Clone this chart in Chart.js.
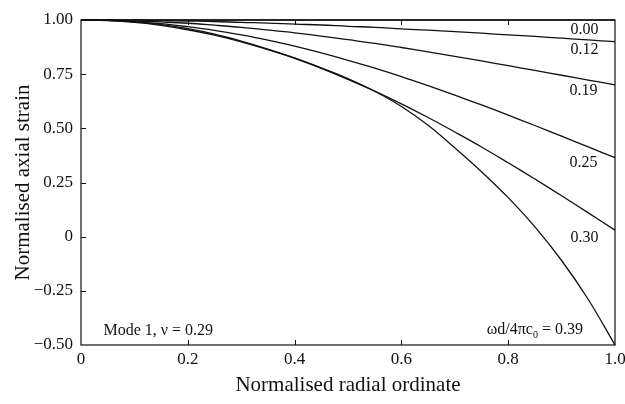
<!DOCTYPE html>
<html>
<head>
<meta charset="utf-8">
<script src="https://cdn.jsdelivr.net/npm/chart.js@4.4.0/dist/chart.umd.min.js"></script>
<style>
  html, body { margin: 0; padding: 0; background: #fff; }
  canvas { display: block; }
</style>
</head>
<body>
<canvas id="graph" width="625" height="404"></canvas>
<script>
// normalised radial ordinate (x)
const radial = [0, 0.05, 0.1, 0.15, 0.2, 0.25, 0.3, 0.35, 0.4, 0.45, 0.5,
                0.55, 0.6, 0.65, 0.7, 0.75, 0.8, 0.85, 0.9, 0.95, 1.0];

// normalised axial strain, one array per wd/4pi c0 value
const strain000 = [1, 1, 1, 1, 1, 1, 1, 1, 1, 1, 1, 1, 1, 1, 1, 1, 1, 1, 1, 1, 1];
const strain012 = [1, 1.000, 0.999, 0.997, 0.995, 0.993, 0.989, 0.986, 0.981, 0.977, 0.971,
                   0.966, 0.959, 0.953, 0.946, 0.939, 0.931, 0.924, 0.916, 0.908, 0.900];
const strain019 = [1, 0.999, 0.996, 0.991, 0.985, 0.976, 0.966, 0.954, 0.941, 0.926, 0.909,
                   0.892, 0.873, 0.853, 0.832, 0.811, 0.789, 0.767, 0.745, 0.723, 0.701];
const strain025 = [1, 0.998, 0.992, 0.983, 0.969, 0.952, 0.931, 0.907, 0.879, 0.848, 0.814,
                   0.778, 0.739, 0.697, 0.653, 0.608, 0.561, 0.513, 0.464, 0.414, 0.365];
const strain030 = [1, 0.997, 0.989, 0.975, 0.955, 0.930, 0.899, 0.863, 0.823, 0.777, 0.726,
                   0.672, 0.613, 0.550, 0.483, 0.414, 0.341, 0.266, 0.189, 0.110, 0.030];
const strain039 = [1, 0.998, 0.991, 0.979, 0.960, 0.935, 0.903, 0.866, 0.825, 0.779, 0.730,
                   0.671, 0.601, 0.514, 0.410, 0.300, 0.180, 0.045, -0.110, -0.290, -0.500];

const seriesNames = ["0.00", "0.12", "0.19", "0.25", "0.30", "0.39"];
const seriesData = [strain000, strain012, strain019, strain025, strain030, strain039];

const xTicks = [0, 0.2, 0.4, 0.6, 0.8, 1.0];
const yTicks = [-0.5, -0.25, 0, 0.25, 0.5, 0.75, 1.0];

const serif = "'Liberation Serif', 'DejaVu Serif', serif";
const ink = '#111';

// text placed inside the plot, in data units
const notes = [
  { text: "0.00", x: 0.969, y: 0.954, align: 'right' },
  { text: "0.12", x: 0.969, y: 0.862, align: 'right' },
  { text: "0.19", x: 0.967, y: 0.671, align: 'right' },
  { text: "0.25", x: 0.967, y: 0.340, align: 'right' },
  { text: "0.30", x: 0.969, y: -0.004, align: 'right' },
  { text: "Mode 1, \u03bd = 0.29", x: 0.042, y: -0.435, align: 'left' }
];

const frameAndNotes = {
  id: 'frameAndNotes',
  afterDatasetsDraw(chart) {
    const ctx = chart.ctx;
    const a = chart.chartArea;
    const xs = chart.scales.x, ys = chart.scales.y;
    ctx.save();
    ctx.strokeStyle = ink;
    ctx.lineWidth = 1.2;
    ctx.strokeRect(a.left, a.top, a.right - a.left, a.bottom - a.top);
    // inward ticks
    ctx.lineWidth = 1;
    ctx.beginPath();
    xTicks.forEach(v => {
      if (v <= 0 || v >= 1) return;
      const px = Math.round(xs.getPixelForValue(v)) + 0.5;
      ctx.moveTo(px, a.bottom); ctx.lineTo(px, a.bottom - 5);
      ctx.moveTo(px, a.top); ctx.lineTo(px, a.top + 5);
    });
    yTicks.forEach(v => {
      if (v <= -0.5 || v >= 1) return;
      const py = Math.round(ys.getPixelForValue(v)) + 0.5;
      ctx.moveTo(a.left, py); ctx.lineTo(a.left + 5, py);
    });
    ctx.stroke();

    ctx.fillStyle = ink;
    ctx.font = "16px " + serif;
    ctx.textBaseline = 'middle';
    notes.forEach(n => {
      ctx.textAlign = n.align;
      ctx.fillText(n.text, xs.getPixelForValue(n.x), ys.getPixelForValue(n.y));
    });

    // wd/4pi c0 = 0.39 with subscript
    const right = xs.getPixelForValue(0.94);
    const py = ys.getPixelForValue(-0.431);
    ctx.textAlign = 'left';
    const p1 = "\u03c9d/4\u03c0c", p2 = "0", p3 = " = 0.39";
    ctx.font = "16px " + serif;
    const w1 = ctx.measureText(p1).width, w3 = ctx.measureText(p3).width;
    ctx.font = "10px " + serif;
    const w2 = ctx.measureText(p2).width;
    let x0 = right - (w1 + w2 + w3);
    ctx.font = "16px " + serif;
    ctx.fillText(p1, x0, py);
    ctx.font = "10px " + serif;
    ctx.fillText(p2, x0 + w1, py + 5);
    ctx.font = "16px " + serif;
    ctx.fillText(p3, x0 + w1 + w2, py);
    ctx.restore();
  }
};

const ctx = document.getElementById("graph");
const graph = new Chart(ctx, {
  type: 'line',
  data: {
    datasets: seriesData.map((arr, i) => ({
      label: seriesNames[i],
      data: radial.map((r, k) => ({ x: r, y: arr[k] })),
      borderColor: ink,
      backgroundColor: ink,
      borderWidth: 1.3,
      pointRadius: 0,
      tension: 0.4,
      clip: 2
    }))
  },
  options: {
    responsive: false,
    animation: false,
    layout: { padding: { top: 20, right: 10, left: 0, bottom: 0 } },
    plugins: {
      legend: { display: false },
      tooltip: { enabled: false }
    },
    scales: {
      x: {
        type: 'linear',
        min: 0,
        max: 1,
        afterBuildTicks: s => { s.ticks = xTicks.map(v => ({ value: v })); },
        afterFit: s => { s.height = 59; s.paddingLeft = 0; s.paddingRight = 0; },
        grid: { display: false, drawTicks: false },
        border: { display: false },
        ticks: {
          color: ink,
          padding: 4,
          maxRotation: 0,
          font: { family: serif, size: 17 },
          callback: v => v === 0 ? '0' : v.toFixed(1)
        },
        title: {
          display: true,
          text: 'Normalised radial ordinate',
          color: ink,
          font: { family: serif, size: 21 },
          padding: { top: 0, bottom: 6 }
        }
      },
      y: {
        min: -0.5,
        max: 1,
        afterBuildTicks: s => { s.ticks = yTicks.map(v => ({ value: v })); },
        afterFit: s => { s.width = 81; s.paddingTop = 0; s.paddingBottom = 0; },
        grid: { display: false, drawTicks: false },
        border: { display: false },
        ticks: {
          color: ink,
          padding: 8,
          font: { family: serif, size: 17 },
          callback: v => v === 0 ? '0' : (v < 0 ? '\u2212' + Math.abs(v).toFixed(2) : v.toFixed(2))
        },
        title: {
          display: true,
          text: 'Normalised axial strain',
          color: ink,
          font: { family: serif, size: 21 },
          padding: { top: 11, bottom: 0 }
        }
      }
    }
  },
  plugins: [frameAndNotes]
});
</script>
</body>
</html>
